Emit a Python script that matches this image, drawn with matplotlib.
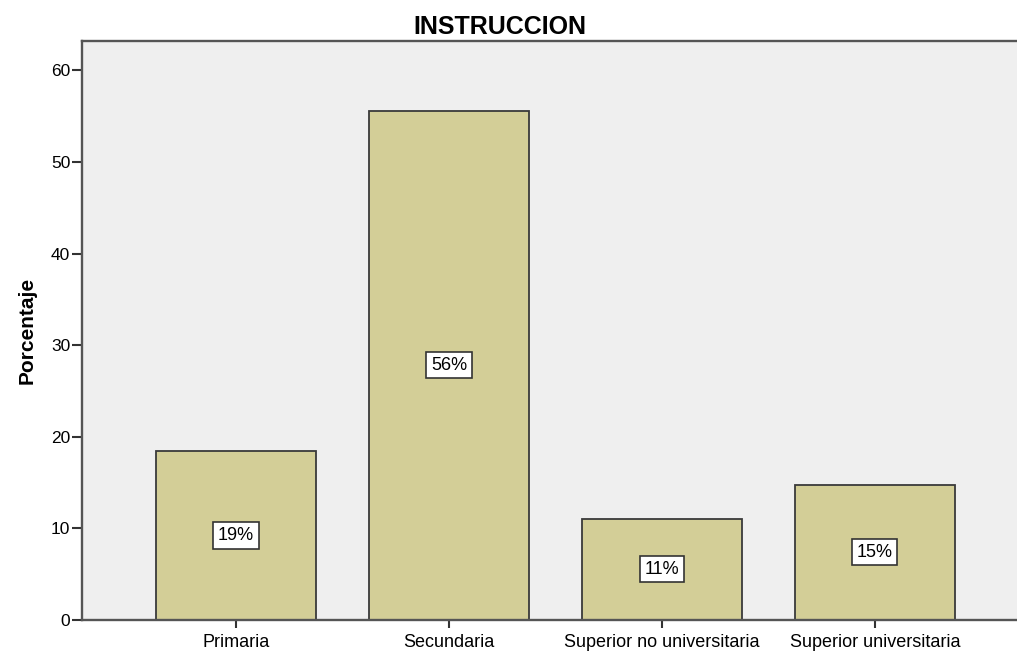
import matplotlib.pyplot as plt

categorias = ["Primaria", "Secundaria", "Superior no universitaria", "Superior universitaria"]
porcentaje = [18.45, 55.57, 11.03, 14.77]
etiquetas = ["19%", "56%", "11%", "15%"]

plt.rcParams['font.family'] = ['Liberation Sans', 'DejaVu Sans']

fig = plt.figure(figsize=(10.17, 6.51), dpi=100)
ax = fig.add_axes([82 / 1017, 31 / 651, 935 / 1017, 579 / 651])
ax.set_facecolor('#efefef')

x = range(len(categorias))
ax.bar(x, porcentaje, width=0.75, color='#d3ce97', edgecolor='#3a3a3a', linewidth=1.3, zorder=2)

for xi, v, t in zip(x, porcentaje, etiquetas):
    ax.text(xi, v / 2, t, ha='center', va='center', fontsize=13, zorder=3,
            bbox=dict(boxstyle='square,pad=0.25', facecolor='white', edgecolor='#333333', linewidth=1.2))

ax.set_xlim(-0.723, 3.667)
ax.set_ylim(0, 63.2)
ax.set_yticks([0, 10, 20, 30, 40, 50, 60])
ax.set_xticks(list(x))
ax.set_xticklabels(categorias, fontsize=13)
ax.tick_params(axis='y', labelsize=12.5, length=7.5, width=1.5, color='#333333', pad=1)
ax.tick_params(axis='x', length=6, width=1.5, color='#333333', pad=4)

ax.spines['right'].set_visible(False)
for s in ['left', 'top', 'bottom']:
    ax.spines[s].set_color('#555555')
    ax.spines[s].set_linewidth(1.7)

ax.set_ylabel('Porcentaje', fontsize=15, fontweight='bold', labelpad=10)
fig.text(500 / 1017, 1 - 27 / 651, 'INSTRUCCION', ha='center', va='center', fontsize=18, fontweight='bold')

fig.savefig('out.png', dpi=100)
